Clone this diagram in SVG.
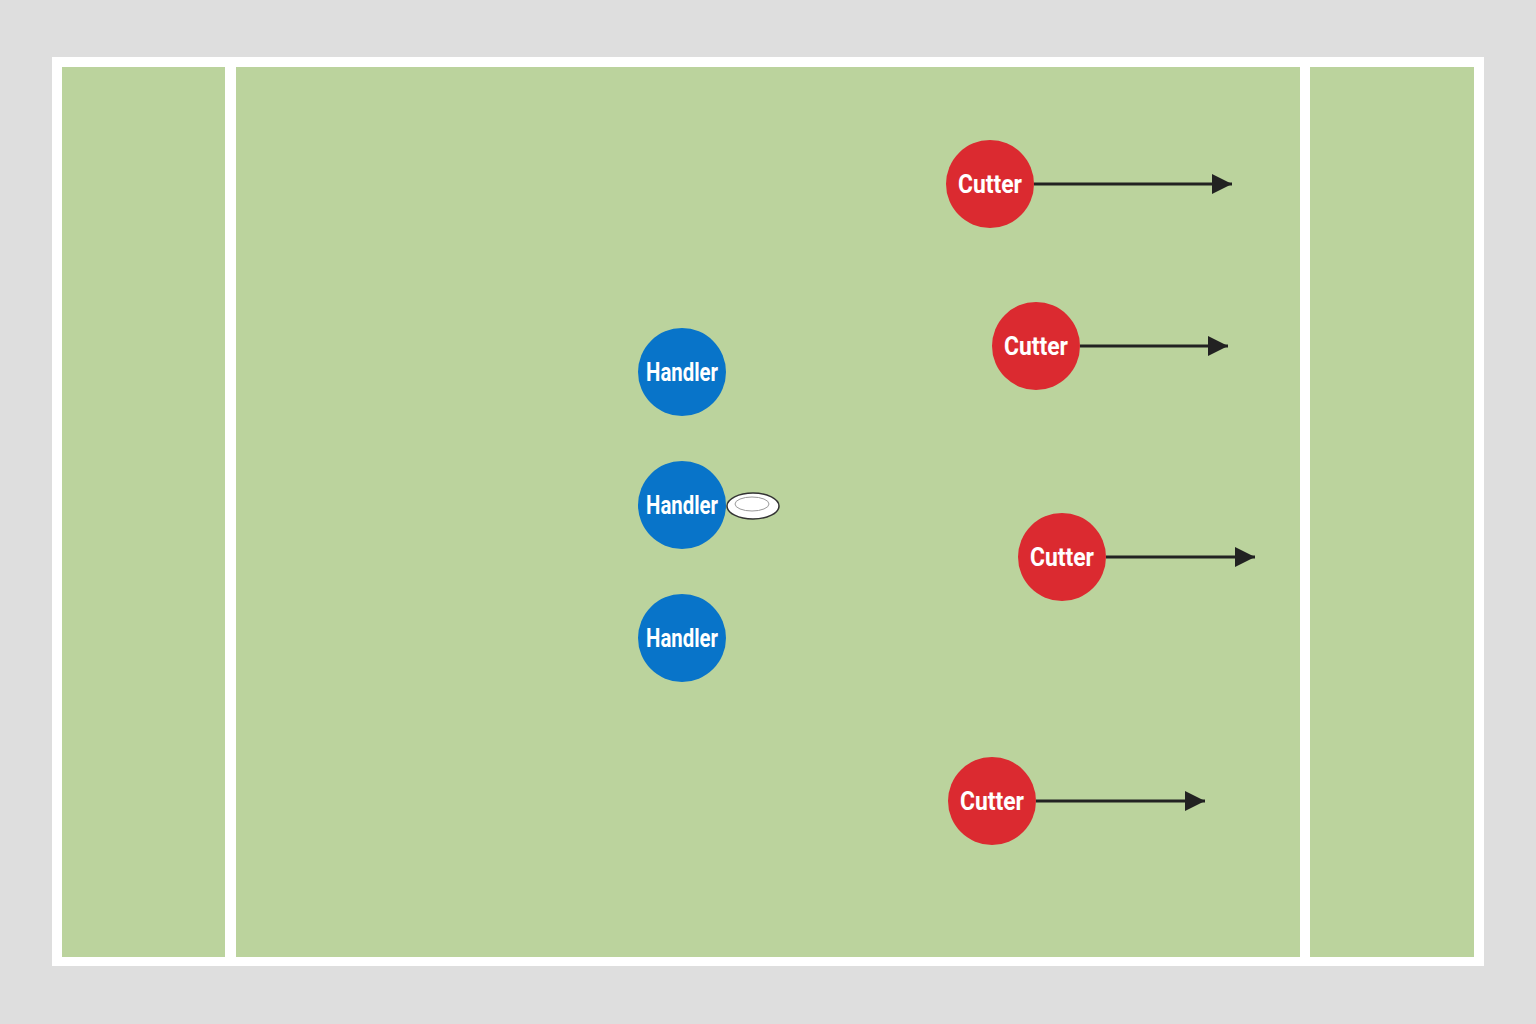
<svg xmlns="http://www.w3.org/2000/svg" width="1536" height="1024" viewBox="0 0 1536 1024">
<style>
.h{fill:#0874c9}
.c{fill:#db2a30}
.t{font-family:"Roboto","Liberation Sans",sans-serif;font-weight:bold;font-size:25px;fill:#fff;text-anchor:middle}
.a{stroke:#222;stroke-width:3;fill:none;marker-end:url(#ah)}
</style>
<defs>
<marker id="ah" viewBox="0 0 20 20" refX="20" refY="10" markerWidth="20" markerHeight="20" markerUnits="userSpaceOnUse" orient="auto">
<path d="M0,0 L20,10 L0,20 Z" fill="#222"/>
</marker>
</defs>
<rect width="1536" height="1024" fill="#dedede"/>
<g id="field">
<rect x="52" y="57" width="1432" height="909" fill="#fff"/>
<rect x="62" y="67" width="1412" height="890" fill="#bbd39d"/>
<rect x="225" y="67" width="11" height="890" fill="#fff"/>
<rect x="1300" y="67" width="10" height="890" fill="#fff"/>
</g>
<g id="connectors">
<line class="a" x1="1034" y1="184" x2="1232" y2="184"/>
<line class="a" x1="1080" y1="346" x2="1228" y2="346"/>
<line class="a" x1="1106" y1="557" x2="1255" y2="557"/>
<line class="a" x1="1036" y1="801" x2="1205" y2="801"/>
</g>
<g id="handler1"><circle class="h" cx="682" cy="372" r="44"/><text class="t" x="682" y="381" textLength="72" lengthAdjust="spacingAndGlyphs">Handler</text></g>
<g id="handler2"><circle class="h" cx="682" cy="505" r="44"/><text class="t" x="682" y="514" textLength="72" lengthAdjust="spacingAndGlyphs">Handler</text></g>
<g id="handler3"><circle class="h" cx="682" cy="638" r="44"/><text class="t" x="682" y="647" textLength="72" lengthAdjust="spacingAndGlyphs">Handler</text></g>
<g id="disc">
<ellipse cx="753" cy="506" rx="26" ry="13" fill="#fff" stroke="#333" stroke-width="1.5"/>
<ellipse cx="752" cy="504" rx="17" ry="7" fill="none" stroke="#999" stroke-width="1"/>
</g>
<g id="cutter1"><circle class="c" cx="990" cy="184" r="44"/><text class="t" x="990" y="193" textLength="64" lengthAdjust="spacingAndGlyphs">Cutter</text></g>
<g id="cutter2"><circle class="c" cx="1036" cy="346" r="44"/><text class="t" x="1036" y="355" textLength="64" lengthAdjust="spacingAndGlyphs">Cutter</text></g>
<g id="cutter3"><circle class="c" cx="1062" cy="557" r="44"/><text class="t" x="1062" y="566" textLength="64" lengthAdjust="spacingAndGlyphs">Cutter</text></g>
<g id="cutter4"><circle class="c" cx="992" cy="801" r="44"/><text class="t" x="992" y="810" textLength="64" lengthAdjust="spacingAndGlyphs">Cutter</text></g>
</svg>
